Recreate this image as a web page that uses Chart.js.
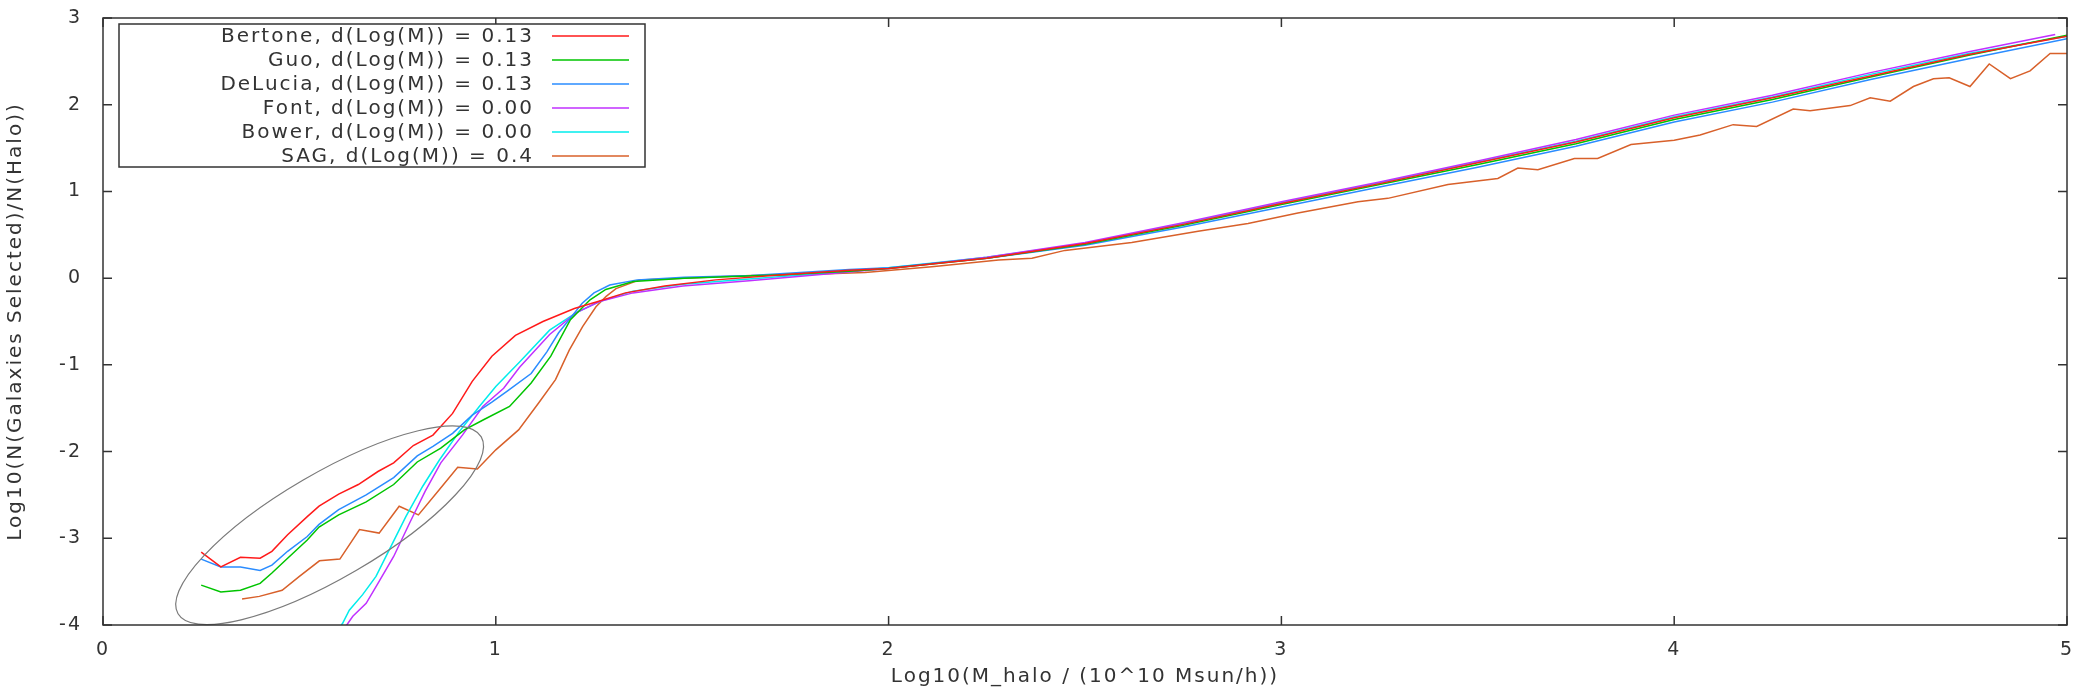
<!DOCTYPE html>
<html>
<head>
<meta charset="utf-8">
<script src="https://cdn.jsdelivr.net/npm/chart.js@4.4.1/dist/chart.umd.min.js"></script>
<style>
  body { margin: 0; background: #fff; }
  #wrap { width: 2076px; height: 700px; }
</style>
</head>
<body>
<div id="wrap"><canvas id="myChart" width="2076" height="700"></canvas></div>
<script>
const xTicks = [0, 1, 2, 3, 4, 5];
const yTicks = [-4, -3, -2, -1, 0, 1, 2, 3];

const bertoneX = [0.25,0.30,0.35,0.40,0.43,0.47,0.52,0.55,0.60,0.65,0.70,0.74,0.79,0.84,0.89,0.94,0.99,1.05,1.12,1.20,1.26,1.33,1.43,1.56,1.73,1.90,2.00,2.25,2.50,2.75,3.00,3.25,3.50,3.75,4.00,4.25,4.50,4.75,5.00];
const bertoneY = [-3.16,-3.33,-3.22,-3.23,-3.15,-2.96,-2.75,-2.63,-2.49,-2.38,-2.23,-2.13,-1.93,-1.81,-1.56,-1.19,-0.90,-0.66,-0.50,-0.35,-0.27,-0.17,-0.09,-0.02,0.04,0.09,0.11,0.23,0.40,0.62,0.86,1.09,1.33,1.57,1.85,2.08,2.33,2.58,2.79];

const guoX = [0.25,0.30,0.35,0.40,0.43,0.47,0.52,0.55,0.60,0.67,0.74,0.80,0.86,0.92,0.97,1.035,1.09,1.14,1.19,1.24,1.28,1.35,1.48,1.73,1.90,2.00,2.25,2.50,2.75,3.00,3.25,3.50,3.75,4.00,4.25,4.50,4.75,5.00];
const guoY = [-3.54,-3.62,-3.60,-3.52,-3.40,-3.23,-3.02,-2.87,-2.73,-2.58,-2.38,-2.12,-1.96,-1.75,-1.63,-1.48,-1.21,-0.90,-0.48,-0.25,-0.13,-0.04,0.00,0.04,0.08,0.11,0.23,0.39,0.61,0.85,1.08,1.31,1.55,1.83,2.06,2.32,2.57,2.80];

const deluciaX = [0.25,0.30,0.35,0.40,0.43,0.47,0.52,0.55,0.60,0.67,0.74,0.80,0.84,0.89,0.94,0.99,1.03,1.09,1.13,1.16,1.22,1.25,1.29,1.36,1.48,1.65,1.90,2.00,2.25,2.50,2.75,3.00,3.25,3.50,3.75,4.00,4.25,4.50,4.75,5.00];
const deluciaY = [-3.24,-3.33,-3.33,-3.37,-3.31,-3.15,-2.98,-2.84,-2.67,-2.50,-2.30,-2.05,-1.94,-1.79,-1.58,-1.43,-1.30,-1.10,-0.85,-0.63,-0.29,-0.17,-0.08,-0.02,0.01,0.03,0.10,0.12,0.23,0.38,0.59,0.82,1.05,1.28,1.52,1.80,2.03,2.29,2.53,2.76];

const fontX = [0.605,0.636,0.67,0.70,0.74,0.78,0.82,0.86,0.915,0.967,1.02,1.06,1.137,1.204,1.264,1.349,1.476,1.645,1.90,2.00,2.25,2.50,2.75,3.00,3.25,3.50,3.75,4.00,4.25,4.50,4.75,4.97];
const fontY = [-4.10,-3.90,-3.75,-3.52,-3.21,-2.83,-2.46,-2.13,-1.81,-1.48,-1.27,-1.03,-0.65,-0.40,-0.27,-0.17,-0.09,-0.03,0.07,0.11,0.24,0.41,0.64,0.88,1.11,1.35,1.60,1.88,2.11,2.37,2.61,2.81];

const bowerX = [0.595,0.61,0.627,0.661,0.695,0.729,0.771,0.814,0.856,0.907,0.958,1.00,1.06,1.137,1.204,1.264,1.349,1.476,1.645,1.90,2.00,2.25,2.50,2.75,3.00,3.25,3.50,3.75,4.00,4.25,4.50,4.75,5.00];
const bowerY = [-4.08,-3.98,-3.83,-3.65,-3.44,-3.13,-2.75,-2.40,-2.10,-1.77,-1.48,-1.25,-0.97,-0.60,-0.40,-0.27,-0.15,-0.07,-0.01,0.08,0.12,0.24,0.40,0.63,0.87,1.10,1.34,1.58,1.86,2.09,2.35,2.59,2.79];

const sagX = [0.354,0.398,0.456,0.50,0.551,0.603,0.653,0.703,0.754,0.803,0.856,0.903,0.953,1.00,1.058,1.109,1.152,1.187,1.221,1.255,1.281,1.306,1.366,1.476,1.65,1.772,1.94,2.11,2.28,2.365,2.449,2.619,2.788,2.915,3.042,3.195,3.271,3.424,3.551,3.602,3.653,3.746,3.805,3.89,4.00,4.066,4.15,4.21,4.303,4.346,4.448,4.499,4.55,4.609,4.66,4.70,4.753,4.802,4.856,4.906,4.957,5.00];
const sagY = [-3.70,-3.67,-3.60,-3.44,-3.26,-3.24,-2.90,-2.94,-2.63,-2.73,-2.44,-2.18,-2.20,-1.98,-1.75,-1.44,-1.17,-0.83,-0.56,-0.33,-0.21,-0.12,-0.02,0.00,0.03,0.04,0.065,0.13,0.21,0.23,0.32,0.41,0.54,0.63,0.75,0.88,0.92,1.08,1.15,1.27,1.25,1.38,1.38,1.54,1.59,1.65,1.77,1.75,1.95,1.93,1.99,2.08,2.04,2.21,2.30,2.31,2.21,2.47,2.30,2.39,2.59,2.59];

// ellipse drawn round the low-mass tails (data units)
const ellipseCenter = [0.577, -2.85];
const ellipseMajorTip = [0.963, -1.83];
const ellipseMinorTip = [0.509, -2.33];

const FONT = 'DejaVu Sans';

function pts(xs, ys) {
    return xs.map((x, i) => ({ x: x, y: ys[i] }));
}

function line(label, xs, ys, color) {
    return {
        label: label,
        data: pts(xs, ys),
        borderColor: color,
        borderWidth: 1.5,
        pointRadius: 0,
        tension: 0,
        fill: false
    };
}

// gnuplot text is spaced out a bit
const spacing = {
    id: 'spacing',
    beforeDraw(chart) {
        chart.ctx.letterSpacing = '2px';
    }
};

const frame = {
    id: 'frame',
    afterDraw(chart) {
        const { ctx, chartArea: a, scales: { x, y } } = chart;
        ctx.save();
        ctx.strokeStyle = '#333';
        ctx.lineWidth = 1.5;
        ctx.strokeRect(a.left, a.top, a.right - a.left, a.bottom - a.top);
        ctx.beginPath();
        xTicks.forEach(v => {
            const px = x.getPixelForValue(v);
            ctx.moveTo(px, a.bottom); ctx.lineTo(px, a.bottom - 9);
            ctx.moveTo(px, a.top); ctx.lineTo(px, a.top + 9);
        });
        yTicks.forEach(v => {
            const py = y.getPixelForValue(v);
            ctx.moveTo(a.left, py); ctx.lineTo(a.left + 9, py);
            ctx.moveTo(a.right, py); ctx.lineTo(a.right - 9, py);
        });
        ctx.stroke();
        ctx.restore();
    }
};

const ellipse = {
    id: 'ellipse',
    afterDatasetsDraw(chart) {
        const { ctx, scales: { x, y } } = chart;
        const cx = x.getPixelForValue(ellipseCenter[0]);
        const cy = y.getPixelForValue(ellipseCenter[1]);
        const mx = x.getPixelForValue(ellipseMajorTip[0]) - cx;
        const my = y.getPixelForValue(ellipseMajorTip[1]) - cy;
        const nx = x.getPixelForValue(ellipseMinorTip[0]) - cx;
        const ny = y.getPixelForValue(ellipseMinorTip[1]) - cy;
        ctx.save();
        ctx.strokeStyle = '#7a7a7a';
        ctx.lineWidth = 1.2;
        ctx.beginPath();
        ctx.ellipse(cx, cy, Math.hypot(mx, my), Math.hypot(nx, ny), Math.atan2(my, mx), 0, Math.PI * 2);
        ctx.stroke();
        ctx.restore();
    }
};

const legendBox = {
    id: 'legendBox',
    afterDraw(chart) {
        const { ctx, chartArea: a } = chart;
        const sets = chart.data.datasets;
        const left = a.left + 16, top = a.top + 6, w = 526, rowH = 24;
        ctx.save();
        ctx.fillStyle = '#fff';
        ctx.fillRect(left, top, w, rowH * sets.length - 1);
        ctx.strokeStyle = '#333';
        ctx.lineWidth = 1.5;
        ctx.strokeRect(left, top, w, rowH * sets.length - 1);
        ctx.font = '20px "' + FONT + '"';
        ctx.textAlign = 'right';
        ctx.textBaseline = 'middle';
        sets.forEach((ds, i) => {
            const yy = top + 12 + i * rowH;
            ctx.fillStyle = '#333';
            ctx.fillText(ds.label, left + 415, yy + 1);
            ctx.strokeStyle = ds.borderColor;
            ctx.lineWidth = 1.5;
            ctx.beginPath();
            ctx.moveTo(left + 433, yy);
            ctx.lineTo(left + 510, yy);
            ctx.stroke();
        });
        ctx.restore();
    }
};

const ctx = document.getElementById('myChart').getContext('2d');
const myChart = new Chart(ctx, {
    type: 'line',
    data: {
        datasets: [
            line('Bertone, d(Log(M)) = 0.13', bertoneX, bertoneY, '#ff1a1a'),
            line('Guo, d(Log(M)) = 0.13', guoX, guoY, '#00c400'),
            line('DeLucia, d(Log(M)) = 0.13', deluciaX, deluciaY, '#2a8cff'),
            line('Font, d(Log(M)) = 0.00', fontX, fontY, '#c030ff'),
            line('Bower, d(Log(M)) = 0.00', bowerX, bowerY, '#00ecec'),
            line('SAG, d(Log(M)) = 0.4', sagX, sagY, '#d8602a')
        ]
    },
    options: {
        responsive: false,
        animation: false,
        layout: { padding: { left: 0, right: 9, top: 18, bottom: 0 } },
        plugins: {
            legend: { display: false },
            tooltip: { enabled: false }
        },
        scales: {
            x: {
                type: 'linear',
                min: 0,
                max: 5,
                afterFit: s => { s.height = 75; s.paddingLeft = 0; s.paddingRight = 0; },
                afterBuildTicks: s => { s.ticks = xTicks.map(v => ({ value: v })); },
                grid: { display: false, drawTicks: false },
                border: { display: false },
                ticks: { padding: 14, color: '#333', font: { family: FONT, size: 19 }, maxRotation: 0 },
                title: {
                    display: true,
                    text: 'Log10(M_halo / (10^10 Msun/h))',
                    color: '#333',
                    font: { family: FONT, size: 20 },
                    padding: { top: 0, bottom: 11 }
                }
            },
            y: {
                type: 'linear',
                min: -4,
                max: 3,
                afterFit: s => { s.width = 103; s.paddingTop = 0; s.paddingBottom = 0; },
                afterBuildTicks: s => { s.ticks = yTicks.map(v => ({ value: v })); },
                grid: { display: false, drawTicks: false },
                border: { display: false },
                ticks: { padding: 21, color: '#333', font: { family: FONT, size: 19 } },
                title: {
                    display: true,
                    text: 'Log10(N(Galaxies Selected)/N(Halo))',
                    color: '#333',
                    font: { family: FONT, size: 20 },
                    padding: { top: 4, bottom: 0 }
                }
            }
        }
    },
    plugins: [spacing, frame, ellipse, legendBox]
});
</script>
</body>
</html>
